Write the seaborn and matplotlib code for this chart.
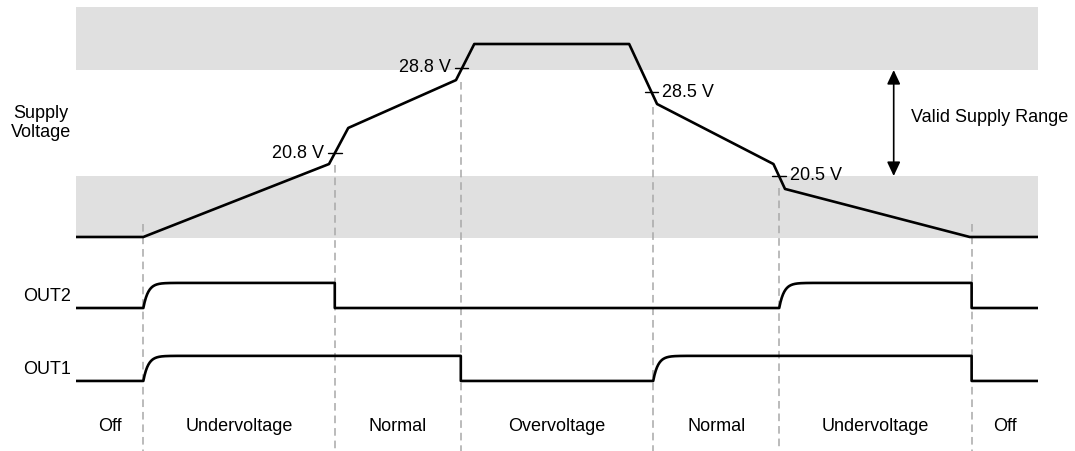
import numpy as np
import matplotlib
matplotlib.use("Agg")
import matplotlib.pyplot as plt
import seaborn as sns

# time axis is arbitrary (0..100); supply level is schematic (0 = off, 1 = top)
SUPPLY_T = [0, 7.0, 26.3, 28.3, 39.5, 41.4, 57.5, 60.4, 72.5, 73.7, 92.9, 100]
SUPPLY_LEVEL = [0, 0, 0.378, 0.565, 0.813, 1.0, 1.0, 0.689, 0.378, 0.249, 0, 0]

REGION_EDGES = [0, 7.0, 26.9, 40.0, 60.0, 73.1, 93.1, 100]
REGION_NAMES = ["Off", "Undervoltage", "Normal", "Overvoltage", "Normal", "Undervoltage", "Off"]
OUT2_STATE = [0, 1, 0, 0, 0, 1, 0]
OUT1_STATE = [0, 1, 1, 0, 1, 1, 0]

THRESH_T = [26.9, 40.1, 59.8, 73.1]
THRESH_LEVEL = [0.435, 0.876, 0.751, 0.316]
THRESH_LABELS = ["20.8 V", "28.8 V", "28.5 V", "20.5 V"]

VALID_LOW, VALID_HIGH = 0.316, 0.865

BAND = "#e0e0e0"
DASH = "#a8a8a8"
FS = 13


def logic_trace(states, edges, low, amp, tau=0.5):
    ts, ys = [], []
    for i, s in enumerate(states):
        t0, t1 = edges[i], edges[i + 1]
        prev = states[i - 1] if i > 0 else s
        if s == 1 and prev == 0:
            tt = t0 + np.concatenate([np.linspace(0, 7 * tau, 80), [t1 - t0]])
            yy = low + amp * (1 - np.exp(-(tt - t0) / tau))
            yy[-1] = low + amp
            ts.extend(tt)
            ys.extend(yy)
        else:
            ts.extend([t0, t1])
            ys.extend([low + amp * s] * 2)
    return np.array(ts), np.array(ys)


sns.set_theme(style="white")
plt.rcParams["font.family"] = ["Liberation Sans", "DejaVu Sans"]
plt.rcParams["text.color"] = "black"

fig = plt.figure(figsize=(10.75, 4.51), dpi=100)
ax = fig.add_axes([76 / 1075, 0, 962 / 1075, 1])
ax.set_xlim(0, 100)
ax.set_ylim(-1.109, 1.228)
ax.axis("off")

# shaded out-of-range bands
ax.axhspan(VALID_HIGH, 1.192, color=BAND, lw=0, zorder=0)
ax.axhspan(-0.005, VALID_LOW, color=BAND, lw=0, zorder=0)

# region boundaries
for t in REGION_EDGES[1:-1]:
    top = max(np.interp(t, SUPPLY_T, SUPPLY_LEVEL) - 0.06, 0.067)
    ax.plot([t, t], [top, -1.109], color=DASH, lw=1.1, dashes=(5, 3.2), zorder=1)

# supply voltage
sns.lineplot(x=SUPPLY_T, y=SUPPLY_LEVEL, sort=False, estimator=None,
             color="black", lw=1.9, ax=ax, zorder=3)

# threshold ticks and labels
peak_t = SUPPLY_T[int(np.argmax(SUPPLY_LEVEL))]
for t, lv, lab in zip(THRESH_T, THRESH_LEVEL, THRESH_LABELS):
    ax.plot([t - 0.7, t + 0.7], [lv, lv], color="black", lw=1.0, zorder=4)
    if t < peak_t:
        ax.text(t - 1.15, lv, lab, ha="right", va="center", fontsize=FS)
    else:
        ax.text(t + 1.15, lv, lab, ha="left", va="center", fontsize=FS)

ax.text(-0.5, 0.59, "Supply\nVoltage", ha="right", va="center",
        multialignment="center", fontsize=FS)

# valid range arrow
ax.annotate("", xy=(85.0, VALID_HIGH), xytext=(85.0, VALID_LOW),
            arrowprops=dict(arrowstyle="<|-|>,head_length=0.85,head_width=0.4",
                            color="black", lw=1.2, shrinkA=0, shrinkB=0,
                            mutation_scale=10))
ax.text(86.8, 0.617, "Valid Supply Range", ha="left", va="center", fontsize=FS)

# digital outputs
amp = 0.13
for name, states, low in [("OUT2", OUT2_STATE, -0.368), ("OUT1", OUT1_STATE, -0.746)]:
    tt, yy = logic_trace(states, REGION_EDGES, low, amp)
    sns.lineplot(x=tt, y=yy, sort=False, estimator=None, color="black",
                 lw=1.9, ax=ax, zorder=3)
    ax.text(-0.5, low + 0.45 * amp, name, ha="right", va="center", fontsize=FS)

# region names
for i, name in enumerate(REGION_NAMES):
    mid = (REGION_EDGES[i] + REGION_EDGES[i + 1]) / 2
    ax.text(mid, -0.984, name, ha="center", va="center", fontsize=FS)

fig.savefig("out.png", dpi=100)
